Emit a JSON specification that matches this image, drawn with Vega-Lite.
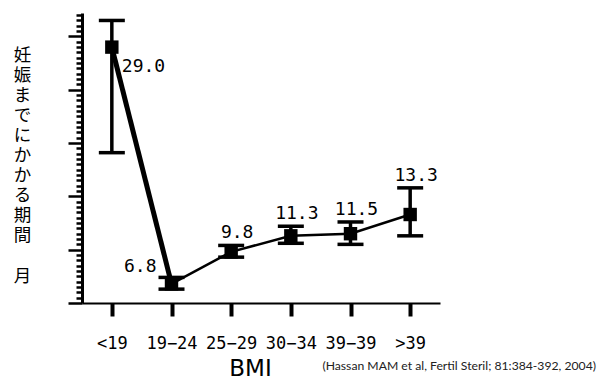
{
  "$schema": "https://vega.github.io/schema/vega-lite/v6.json",
  "width": 358,
  "height": 290,
  "autosize": {"type": "none"},
  "padding": {"left": 82, "top": 13, "right": 168, "bottom": 75},
  "background": "white",
  "title": {
    "text": "(Hassan MAM et al, Fertil Steril; 81:384-392, 2004)",
    "orient": "bottom",
    "anchor": "end",
    "font": "Lato",
    "fontSize": 12.2,
    "fontWeight": "normal",
    "color": "#222222",
    "dx": 156,
    "dy": -24
  },
  "config": {"view": {"stroke": null}},
  "data": {
    "values": [
      {"bmi": "<19", "mean": 29.0, "lo": 19.1, "hi": 31.5, "label": "29.0"},
      {"bmi": "19−24", "mean": 6.8, "lo": 6.3, "hi": 7.4, "label": "6.8"},
      {"bmi": "25−29", "mean": 9.8, "lo": 9.3, "hi": 10.4, "label": "9.8"},
      {"bmi": "30−34", "mean": 11.3, "lo": 10.6, "hi": 12.2, "label": "11.3"},
      {"bmi": "39−39", "mean": 11.5, "lo": 10.5, "hi": 12.6, "label": "11.5"},
      {"bmi": ">39", "mean": 13.3, "lo": 11.3, "hi": 15.8, "label": "13.3"}
    ]
  },
  "encoding": {
    "x": {
      "field": "bmi",
      "type": "ordinal",
      "sort": null,
      "scale": {"type": "point", "padding": 0.5},
      "axis": {
        "title": "BMI",
        "titleFont": "DejaVu Sans",
        "titleFontSize": 23,
        "titleFontWeight": "normal",
        "titleColor": "black",
        "titleBaseline": "alphabetic",
        "titleX": 168,
        "titleY": 72,
        "labelAngle": 0,
        "labelFont": "DejaVu Sans Mono",
        "labelFontSize": 17,
        "labelColor": "black",
        "labelPadding": 19,
        "tickSize": 13,
        "tickWidth": 4,
        "tickColor": "black",
        "domainColor": "black",
        "domainWidth": 2,
        "grid": false
      }
    }
  },
  "layer": [
    {
      "mark": {"type": "rule", "color": "black", "strokeWidth": 3.5},
      "encoding": {
        "y": {
          "field": "lo",
          "type": "quantitative",
          "scale": {"domain": [5, 32.2], "nice": false, "zero": false},
          "axis": {
            "title": ["妊", "娠", "ま", "で", "に", "か", "か", "る", "期", "間", "\u200b", "月"],
            "titleFont": "Noto Sans CJK JP",
            "titleFontSize": 17.5,
            "titleFontWeight": "normal",
            "titleColor": "black",
            "titleLineHeight": 20.1,
            "titleAngle": 0,
            "titleAlign": "center",
            "titleBaseline": "top",
            "titleX": -60,
            "titleY": 33,
            "labels": false,
            "tickCount": 200,
            "values": [5, 5.5, 6, 6.5, 7, 7.5, 8, 8.5, 9, 9.5, 10, 10.5, 11, 11.5, 12, 12.5, 13, 13.5, 14, 14.5, 15, 15.5, 16, 16.5, 17, 17.5, 18, 18.5, 19, 19.5, 20, 20.5, 21, 21.5, 22, 22.5, 23, 23.5, 24, 24.5, 25, 25.5, 26, 26.5, 27, 27.5, 28, 28.5, 29, 29.5, 30, 30.5, 31, 31.5, 32],
            "tickSize": {"condition": {"test": "datum.value % 5 === 0", "value": 14}, "value": 6},
            "tickWidth": 2.5,
            "tickColor": "black",
            "domainColor": "black",
            "domainWidth": 3,
            "grid": false
          }
        },
        "y2": {"field": "hi"}
      }
    },
    {
      "mark": {"type": "tick", "color": "black", "size": 26, "thickness": 3.5, "opacity": 1},
      "encoding": {"y": {"field": "lo", "type": "quantitative"}}
    },
    {
      "mark": {"type": "tick", "color": "black", "size": 26, "thickness": 3.5, "opacity": 1},
      "encoding": {"y": {"field": "hi", "type": "quantitative"}}
    },
    {
      "transform": [{"filter": "datum.bmi === '<19' || datum.bmi === '19−24'"}],
      "mark": {"type": "line", "color": "black", "strokeWidth": 5},
      "encoding": {"y": {"field": "mean", "type": "quantitative"}}
    },
    {
      "transform": [{"filter": "datum.bmi !== '<19'"}],
      "mark": {"type": "line", "color": "black", "strokeWidth": 2.5},
      "encoding": {"y": {"field": "mean", "type": "quantitative"}}
    },
    {
      "mark": {"type": "square", "color": "black", "filled": true, "opacity": 1, "size": 180},
      "encoding": {"y": {"field": "mean", "type": "quantitative"}}
    },
    {
      "transform": [{"filter": "datum.bmi !== '<19' && datum.bmi !== '19−24'"}],
      "mark": {"type": "text", "font": "DejaVu Sans Mono", "fontSize": 18, "color": "black", "align": "center", "baseline": "alphabetic", "dx": 6, "dy": -7},
      "encoding": {"y": {"field": "hi", "type": "quantitative"}, "text": {"field": "label"}}
    },
    {
      "transform": [{"filter": "datum.bmi === '<19'"}],
      "mark": {"type": "text", "font": "DejaVu Sans Mono", "fontSize": 18, "color": "black", "align": "left", "baseline": "middle", "dx": 10, "dy": 20},
      "encoding": {"y": {"field": "mean", "type": "quantitative"}, "text": {"field": "label"}}
    },
    {
      "transform": [{"filter": "datum.bmi === '19−24'"}],
      "mark": {"type": "text", "font": "DejaVu Sans Mono", "fontSize": 18, "color": "black", "align": "right", "baseline": "middle", "dx": -15, "dy": -17},
      "encoding": {"y": {"field": "mean", "type": "quantitative"}, "text": {"field": "label"}}
    }
  ]
}
